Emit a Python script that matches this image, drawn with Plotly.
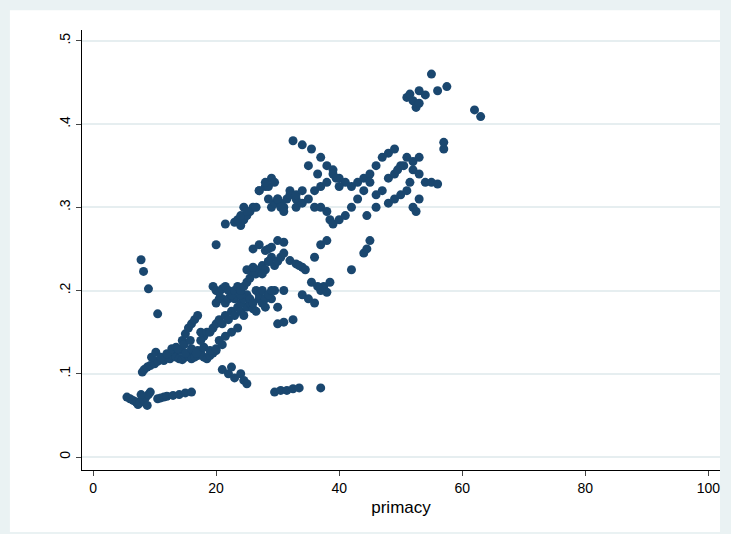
import plotly.graph_objects as go

# primacy values and matching y values
primacy = [
    5.5, 6, 6.5, 7, 7.3, 7.6, 8, 8.3, 8.6, 9, 9.3, 7.8, 8.8, 10.5, 11, 11.5, 12, 13, 14, 15, 16,
    7.8, 8.2, 9, 10.5,
    8, 8.3, 8.8, 9.3, 10, 10.5, 11, 11.5, 12, 12.5, 13, 13.5, 14, 14.5, 15, 15.5, 16, 16.5, 17, 17.5, 18, 18.5, 19, 19.5, 20,
    9.5, 10.2, 11, 12, 12.8, 13.5, 14.2, 15, 16, 17, 18, 19, 20, 21,
    14.5, 15, 15.5, 16, 16.5, 17, 17.5, 18, 13.8, 14.8, 15.8, 16.8, 17.5, 18.5,
    19, 19.5, 20, 20.5, 21, 21.5, 22, 22.5, 23, 23.5, 24, 24.5, 25, 25.5, 26, 26.5, 27, 27.5, 28, 28.5, 29, 29.5, 30,
    20, 20.5, 21, 21.5, 22, 22.5, 23, 23.5, 24, 24.5, 25, 25.5, 26, 26.5, 27, 27.5, 28, 28.5, 29,
    19.5, 20, 20.5, 21, 21.5, 22, 22.5, 23, 23.5, 24, 20.5, 21.5, 22.5, 23.5,
    21, 22, 22.5, 23, 24, 24.5, 25, 29.5, 30.5, 31.5, 32.5, 33.5, 37,
    24, 24.5, 25, 25.5, 26, 26.5, 27, 27.5, 28, 28.5, 29, 29.5, 30, 30.5, 31, 25, 26, 27.5, 28.5,
    26, 27, 28, 28.5, 29, 30, 31, 32, 33, 34, 30, 31, 32.5, 31, 34, 35, 36, 37, 37.5, 38, 38.5, 35.5, 36.5, 33.5, 34.5, 36, 37, 38,
    20, 21.5, 23, 24, 24.5, 25, 25.5, 26, 27, 28, 28.5, 29, 29.5, 30, 30.5, 31, 31.5, 32, 33,
    23.5, 24, 24.5, 25, 26.5, 27, 28, 28.5, 29, 29.5, 30, 30.5, 31, 32, 33, 34,
    32.5, 34, 35.5, 37, 35, 36.5, 38, 39, 40, 41, 42, 43, 44, 45, 46, 47, 48, 49, 50, 51, 52, 53,
    36, 37, 38, 38.5, 39, 40, 41, 42, 43, 44, 45, 46, 47, 48, 49, 49.5, 50.5, 51.5, 52, 53,
    33, 34, 35, 36, 37, 38, 39, 39.5, 40, 42, 44, 44.5, 45,
    44.5, 46, 48, 49, 50, 51, 52, 52.5, 53, 54, 55, 56, 57,
    51, 51.5, 52, 53, 54, 55, 56, 57.5, 52.5, 53, 62, 63, 57,
]
share = [
    .072, .07, .068, .066, .063, .065, .07, .068, .072, .075, .078, .075, .062, .07, .071, .072, .073, .074, .075, .077, .078,
    .237, .223, .202, .172,
    .102, .105, .108, .11, .112, .115, .118, .116, .12, .118, .122, .12, .118, .117, .12, .122, .118, .12, .122, .125, .12, .118, .122, .125, .128,
    .12, .126, .12, .124, .13, .132, .128, .125, .13, .128, .132, .128, .13, .135,
    .14, .148, .155, .16, .165, .17, .15, .145, .13, .135, .14, .125, .14, .15,
    .15, .155, .16, .165, .16, .17, .165, .175, .17, .18, .175, .17, .18, .185, .178, .175, .19, .185, .18, .195, .19, .2, .18,
    .185, .19, .19, .185, .19, .195, .19, .2, .185, .19, .195, .19, .185, .2, .195, .2, .19, .195, .2,
    .205, .2, .198, .202, .205, .2, .195, .2, .205, .195, .14, .145, .15, .155,
    .105, .1, .108, .095, .1, .092, .088, .078, .08, .08, .082, .083, .083,
    .2, .205, .21, .215, .222, .22, .225, .23, .225, .235, .24, .23, .235, .24, .245, .225, .228, .22, .235,
    .25, .255, .248, .25, .252, .26, .258, .236, .232, .228, .16, .162, .165, .2, .195, .19, .185, .2, .205, .198, .21, .21, .205, .23, .225, .24, .255, .26,
    .255, .28, .282, .278, .285, .29, .295, .3, .32, .325, .325, .3, .305, .31, .305, .3, .31, .315, .3,
    .285, .29, .3, .295, .3, .32, .33, .31, .335, .33, .31, .3, .295, .32, .31, .305,
    .38, .375, .37, .36, .35, .34, .35, .345, .335, .33, .325, .33, .335, .34, .35, .36, .365, .37, .35, .36, .345, .34,
    .3, .3, .295, .285, .28, .285, .29, .3, .31, .32, .33, .315, .32, .335, .34, .345, .35, .33, .355, .36,
    .315, .32, .31, .32, .325, .33, .34, .335, .325, .225, .245, .25, .26,
    .29, .3, .305, .31, .315, .32, .3, .295, .31, .33, .33, .328, .37,
    .432, .436, .428, .44, .435, .46, .44, .445, .42, .425, .417, .409, .378,
]

fig = go.Figure(go.Scatter(
    x=primacy, y=share, mode="markers",
    marker=dict(color="#1a476f", size=9, line=dict(width=0)),
))

fig.update_layout(
    width=731, height=534,
    paper_bgcolor="#eaf2f3", plot_bgcolor="white",
    margin=dict(l=82, r=11, t=30, b=64),
    showlegend=False,
    font=dict(family="Liberation Sans, Arial", size=14, color="black"),
    shapes=[dict(type="rect", xref="paper", yref="paper", x0=-0.113, x1=1.0,
                 y0=-0.141, y1=1.045, fillcolor="white", line=dict(width=0), layer="below")],
)
fig.update_xaxes(
    range=[-1.8, 101.9], tickvals=[0, 20, 40, 60, 80, 100], showgrid=False,
    showline=True, linecolor="black", ticks="outside", ticklen=5,
    title=dict(text="primacy", standoff=6), zeroline=False,
)
fig.update_yaxes(
    range=[-0.0156, 0.513], tickvals=[0, .1, .2, .3, .4, .5],
    ticktext=["0", ".1", ".2", ".3", ".4", ".5"], tickangle=-90,
    showgrid=True, gridcolor="#e6eef0", gridwidth=1.5,
    showline=True, linecolor="black", ticks="outside", ticklen=5, zeroline=False,
)

fig.write_html("out.html", config={"displayModeBar": False})

# drop the default page margin so the figure fills the window exactly
with open("out.html") as f:
    page = f.read()
page = page.replace("<head>", "<head><style>body{margin:0}</style>", 1)
with open("out.html", "w") as f:
    f.write(page)
